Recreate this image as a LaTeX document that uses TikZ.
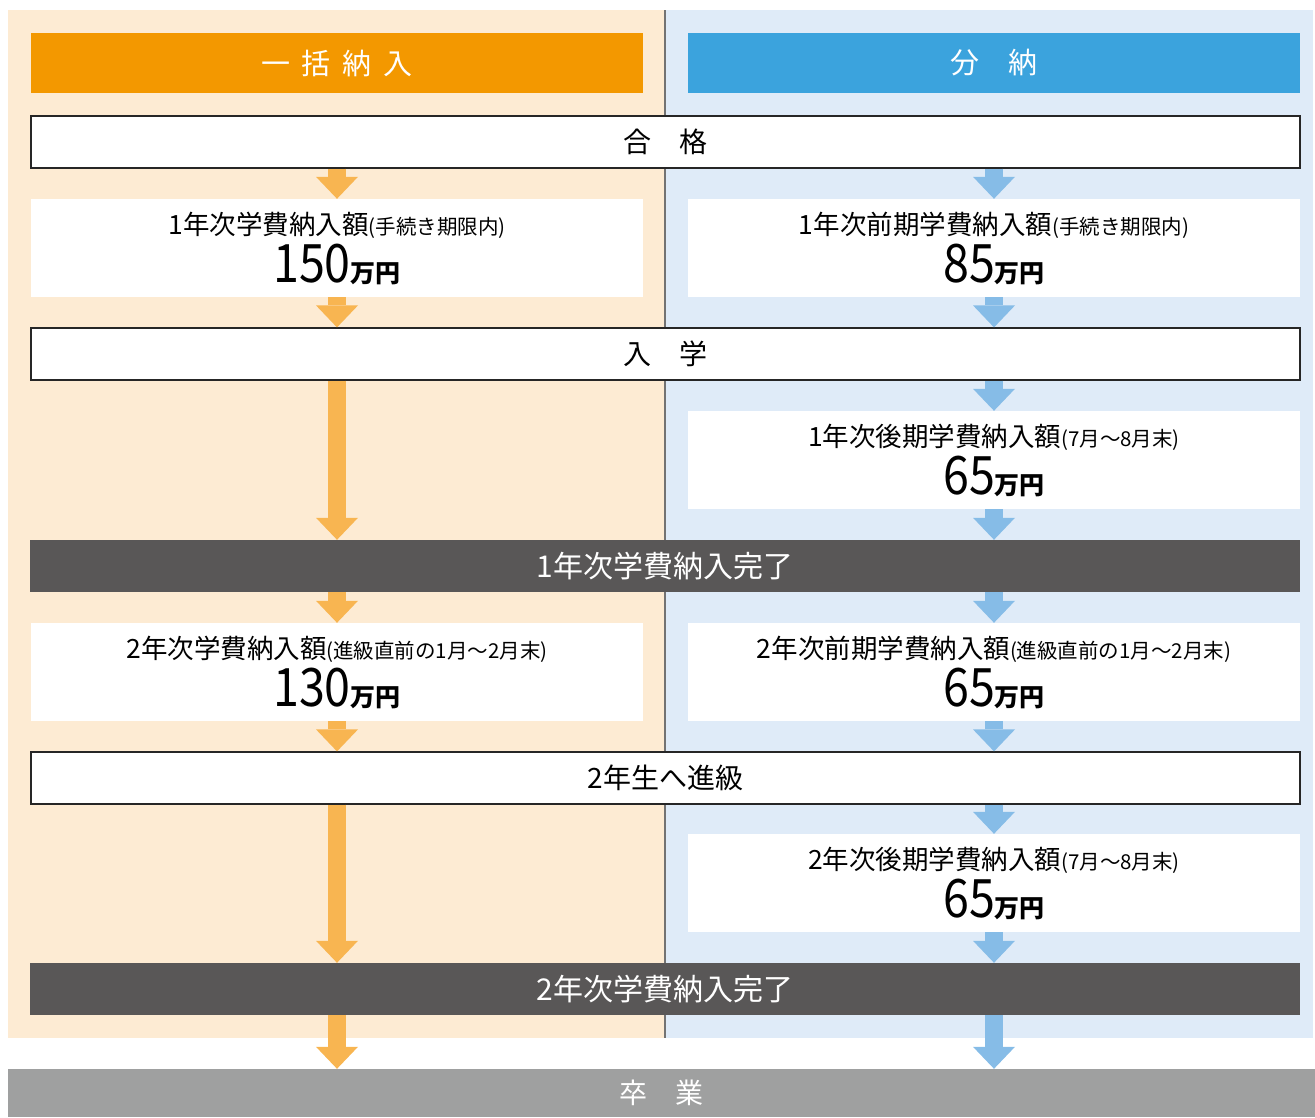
\documentclass[tikz,border=0pt]{standalone}
\usepackage{fontspec}
\setmainfont{Noto Sans CJK JP}
\usetikzlibrary{arrows.meta, positioning}
\definecolor{peach}{HTML}{FDEBD3}
\definecolor{paleblue}{HTML}{DFEBF8}
\definecolor{headorange}{HTML}{F39800}
\definecolor{headblue}{HTML}{3BA3DD}
\definecolor{arroworange}{HTML}{F8B551}
\definecolor{arrowblue}{HTML}{86BCE7}
\definecolor{darkbar}{HTML}{595757}
\definecolor{graybar}{HTML}{9FA0A0}

% one line of a fee box: label, note, amount
\newcommand{\feetext}[3]{{\fontsize{26.5}{26.5}\selectfont #1}{\fontsize{20.5}{20.5}\selectfont #2}\\
  {\fontsize{53}{53}\selectfont\scalebox{0.88}[1]{#3}}{\fontsize{25}{25}\selectfont\bfseries 万円}}

\begin{document}
\begin{tikzpicture}[x=1pt, y=-1pt,
    header/.style={minimum width=612pt, minimum height=60pt, inner sep=0pt, text=white,
      font=\fontsize{29}{29}\selectfont},
    stagebox/.style={draw=black!85, line width=1.2pt, fill=white, minimum width=1269pt,
      minimum height=52pt, inner sep=0pt, font=\fontsize{28}{28}\selectfont},
    donebar/.style={fill=darkbar, text=white, minimum width=1270pt, minimum height=52pt,
      inner sep=0pt, font=\fontsize{30}{30}\selectfont},
    feebox/.style={fill=white, minimum width=612pt, minimum height=98pt, inner sep=0pt,
      align=center, font=\fontsize{25}{48}\selectfont},
    larrow/.style={draw=arroworange, line width=18pt,
      -{Triangle[width=42pt, length=22pt, line width=0pt]}},
    rarrow/.style={draw=arrowblue, line width=18pt,
      -{Triangle[width=42pt, length=22pt, line width=0pt]}}]

    \useasboundingbox (0,0) rectangle (1315,1117);

    % background columns
    \fill[peach] (8,10) rectangle (665,1038);
    \fill[paleblue] (665,10) rectangle (1313,1038);
    \draw[black!55, line width=1.5pt] (665,10) -- (665,1038);

    \node[header, fill=headorange] (ikkatsu) at (337,63) {一\hspace{12pt}括\hspace{12pt}納\hspace{12pt}入};
    \node[header, fill=headblue] (bunno) at (994,63) {分　納};

    \node[stagebox] (gokaku) at (665.5,142) {合　格};

    \node[feebox] (feeA) at (337,248) {\feetext{1年次学費納入額}{(手続き期限内)}{150}};
    \node[feebox] (feeB) at (994,248) {\feetext{1年次前期学費納入額}{(手続き期限内)}{85}};

    \node[stagebox] (nyugaku) at (665.5,354) {入　学};

    \node[feebox] (feeC) at (994,460) {\feetext{1年次後期学費納入額}{(7月〜8月末)}{65}};

    \node[donebar] (doneA) at (665,566) {1年次学費納入完了};

    \node[feebox] (feeD) at (337,672) {\feetext{2年次学費納入額}{(進級直前の1月〜2月末)}{130}};
    \node[feebox] (feeE) at (994,672) {\feetext{2年次前期学費納入額}{(進級直前の1月〜2月末)}{65}};

    \node[stagebox] (shinkyu) at (665.5,778) {2年生へ進級};

    \node[feebox] (feeF) at (994,883) {\feetext{2年次後期学費納入額}{(7月〜8月末)}{65}};

    \node[donebar] (doneB) at (665,989) {2年次学費納入完了};

    \node[fill=graybar, text=white, minimum width=1307pt, minimum height=48pt, inner sep=0pt,
      font=\fontsize{28}{28}\selectfont] (sotsugyo) at (661.5,1093) {卒　業};

    % left column arrows
    \draw[larrow] (gokaku.south -| feeA.north) -- (feeA.north);
    \draw[larrow] (feeA.south) -- (nyugaku.north -| feeA.south);
    \draw[larrow] (nyugaku.south -| feeA.south) -- (doneA.north -| feeA.south);
    \draw[larrow] (doneA.south -| feeD.north) -- (feeD.north);
    \draw[larrow] (feeD.south) -- (shinkyu.north -| feeD.south);
    \draw[larrow] (shinkyu.south -| feeD.south) -- (doneB.north -| feeD.south);
    \draw[larrow] (doneB.south -| feeD.south) -- (sotsugyo.north -| feeD.south);

    % right column arrows
    \draw[rarrow] (gokaku.south -| feeB.north) -- (feeB.north);
    \draw[rarrow] (feeB.south) -- (nyugaku.north -| feeB.south);
    \draw[rarrow] (nyugaku.south -| feeC.north) -- (feeC.north);
    \draw[rarrow] (feeC.south) -- (doneA.north -| feeC.south);
    \draw[rarrow] (doneA.south -| feeE.north) -- (feeE.north);
    \draw[rarrow] (feeE.south) -- (shinkyu.north -| feeE.south);
    \draw[rarrow] (shinkyu.south -| feeF.north) -- (feeF.north);
    \draw[rarrow] (feeF.south) -- (doneB.north -| feeF.south);
    \draw[rarrow] (doneB.south -| feeF.south) -- (sotsugyo.north -| feeF.south);

\end{tikzpicture}
\end{document}
